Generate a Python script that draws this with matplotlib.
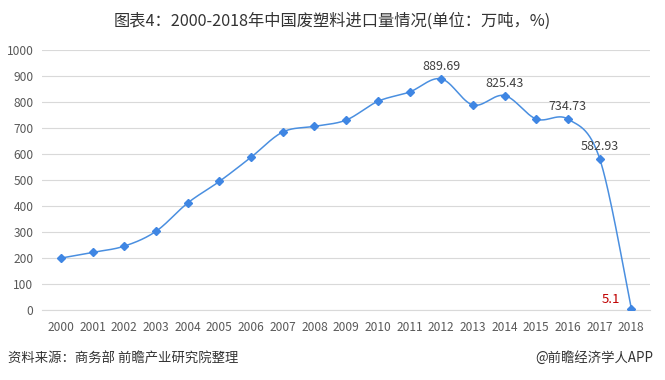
import numpy as np
import matplotlib.pyplot as plt

plt.rcParams['font.family'] = ['Noto Sans CJK SC', 'DejaVu Sans']

years = [2000, 2001, 2002, 2003, 2004, 2005, 2006, 2007, 2008, 2009,
         2010, 2011, 2012, 2013, 2014, 2015, 2016, 2017, 2018]
imports = [200, 222, 246, 303, 412, 495, 588, 685, 707, 731,
           803, 839, 889.69, 789, 825.43, 735, 734.73, 582.93, 5.1]
labelled = {2012: '889.69', 2014: '825.43', 2016: '734.73', 2017: '582.93'}


def smooth(xs, ys, n=30):
    # Catmull-Rom curve through the points, like Excel's smoothed line
    xs = np.asarray(xs, float)
    ys = np.asarray(ys, float)
    px = np.concatenate([[xs[0]], xs, [xs[-1]]])
    py = np.concatenate([[ys[0]], ys, [ys[-1]]])
    ox, oy = [], []
    for i in range(1, len(px) - 2):
        t = np.linspace(0, 1, n)
        for p, out in ((px, ox), (py, oy)):
            p0, p1, p2, p3 = p[i - 1], p[i], p[i + 1], p[i + 2]
            c1 = p1 + (p2 - p0) / 6
            c2 = p2 - (p3 - p1) / 6
            out.extend((1 - t) ** 3 * p1 + 3 * (1 - t) ** 2 * t * c1
                       + 3 * (1 - t) * t ** 2 * c2 + t ** 3 * p2)
    return ox, oy


fig = plt.figure(figsize=(6.65, 3.8), dpi=100)
ax = fig.add_axes([0.063, 0.184, 0.915, 0.684])

x = np.arange(len(years))
sx, sy = smooth(x, imports)
ax.plot(sx, sy, color='#4a8fe0', linewidth=1.1, zorder=3)
ax.plot(x, imports, linestyle='none', marker='D', markersize=4,
        color='#3f86e3', zorder=4)

for i, yr in enumerate(years):
    if yr in labelled:
        ax.text(x[i], imports[i] + 22, labelled[yr], ha='center', va='bottom',
                fontsize=9, color='#404040')
ax.text(x[-1] - 0.35, imports[-1] + 12, '5.1', ha='right', va='bottom',
        fontsize=9.5, color='#c00000')

ax.set_ylim(0, 1000)
ax.set_yticks(range(0, 1001, 100))
ax.set_xlim(-0.6, len(years) - 0.4)
ax.set_xticks(x)
ax.set_xticklabels([str(y) for y in years])
ax.tick_params(axis='both', length=0, labelsize=8.6, colors='#595959')
ax.tick_params(axis='x', pad=8)
ax.tick_params(axis='y', pad=6)
ax.grid(axis='y', color='#d9d9d9', linewidth=0.8)
ax.set_axisbelow(True)
for s in ['top', 'right', 'left']:
    ax.spines[s].set_visible(False)
ax.spines['bottom'].set_color('#d9d9d9')

fig.text(0.5, 0.945, '图表4：2000-2018年中国废塑料进口量情况(单位：万吨，%)',
         ha='center', va='center', fontsize=11.7, color='#333333')
fig.text(0.012, 0.057, '资料来源：商务部 前瞻产业研究院整理', ha='left',
         va='center', fontsize=9.6, color='#333333')
fig.text(0.982, 0.057, '@前瞻经济学人APP', ha='right', va='center',
         fontsize=9.6, color='#333333')

fig.savefig('out.png', dpi=100)
